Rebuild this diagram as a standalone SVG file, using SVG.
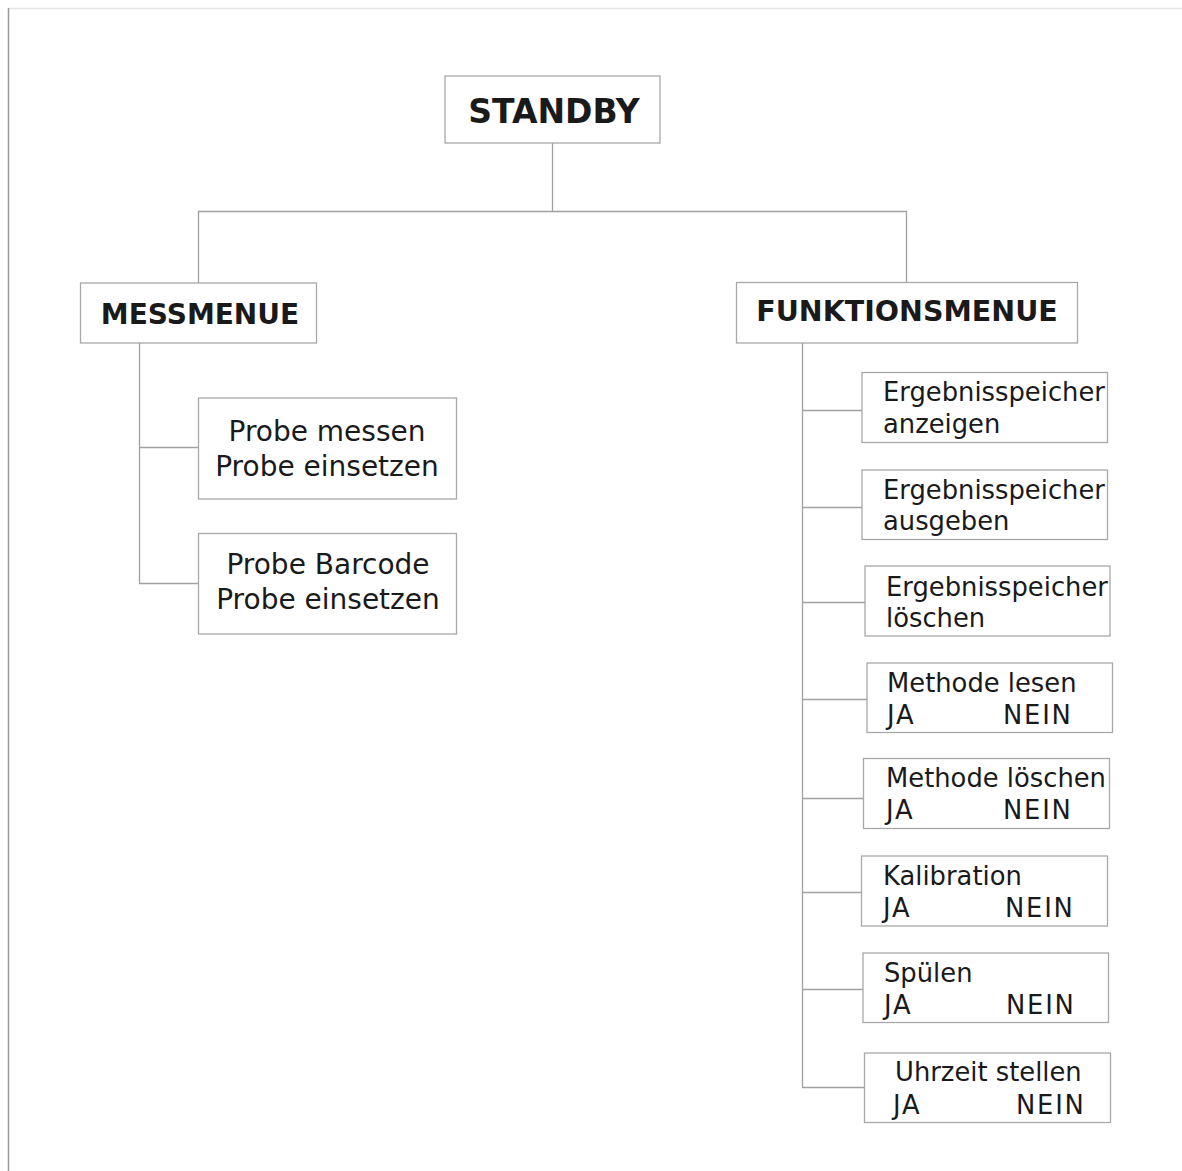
<svg xmlns="http://www.w3.org/2000/svg" width="1182" height="1171" viewBox="0 0 1182 1171">
<style>
.box{fill:#fff;stroke:#a8a8a8;stroke-width:1.3}
.line{fill:none;stroke:#a0a0a0;stroke-width:1.3}
.h{font-family:"DejaVu Sans",Verdana,sans-serif;font-weight:bold;fill:#1a1a1a;text-anchor:middle}
.t{font-family:"DejaVu Sans",Verdana,sans-serif;fill:#1a1a1a;font-size:25.8px}
.n{letter-spacing:1.8px}
.p{font-family:"DejaVu Sans",Verdana,sans-serif;fill:#1a1a1a;font-size:28px;text-anchor:middle}
</style>
<rect x="0" y="0" width="1182" height="1171" fill="#fff"/>
<line x1="8" y1="8.5" x2="1182" y2="8.5" stroke="#e6e6e6" stroke-width="1.5"/>
<line x1="8.5" y1="8" x2="8.5" y2="1171" stroke="#999" stroke-width="1.5"/>
<g id="connectors">
<path class="line" d="M552.5 143V211.5M198.5 283V211.5H906.5V283"/>
<path class="line" d="M139.5 343V583.5H198.5M139.5 447.5H198.5"/>
<path class="line" d="M802.5 343V1087.5H864M802.5 410.5H862M802.5 507.5H862M802.5 602.5H865M802.5 699.5H867M802.5 798.5H863M802.5 892.5H861M802.5 989.5H863"/>
</g>
<g id="standby"><rect class="box" x="445" y="76" width="215" height="67"/><text class="h" x="554" y="123" font-size="33">STANDBY</text></g>
<g id="messmenue"><rect class="box" x="80.5" y="283" width="236" height="60"/><text class="h" x="200" y="324" font-size="28">MESSMENUE</text></g>
<g id="funktionsmenue"><rect class="box" x="736.5" y="282.5" width="341" height="60.5"/><text class="h" x="907" y="321" font-size="28.5">FUNKTIONSMENUE</text></g>
<g id="probe-messen"><rect class="box" x="198.5" y="398" width="258" height="101"/><text class="p" x="327" y="441">Probe messen</text><text class="p" x="327" y="476">Probe einsetzen</text></g>
<g id="probe-barcode"><rect class="box" x="198.5" y="533.5" width="258" height="100.5"/><text class="p" x="328" y="574">Probe Barcode</text><text class="p" x="328" y="609">Probe einsetzen</text></g>
<g id="erg-anzeigen"><rect class="box" x="862" y="372.5" width="245.5" height="70"/><text class="t" x="883" y="401">Ergebnisspeicher</text><text class="t" x="883" y="433">anzeigen</text></g>
<g id="erg-ausgeben"><rect class="box" x="862" y="470" width="245.5" height="69.5"/><text class="t" x="883" y="499">Ergebnisspeicher</text><text class="t" x="883" y="530">ausgeben</text></g>
<g id="erg-loeschen"><rect class="box" x="865" y="566" width="245" height="70"/><text class="t" x="886" y="596">Ergebnisspeicher</text><text class="t" x="886" y="627">löschen</text></g>
<g id="methode-lesen"><rect class="box" x="867" y="663" width="245.5" height="69.5"/><text class="t" x="887" y="692">Methode lesen</text><text class="t n" x="887" y="724">JA</text><text class="t n" x="1003" y="724">NEIN</text></g>
<g id="methode-loeschen"><rect class="box" x="863.5" y="758.5" width="246" height="70"/><text class="t" x="886" y="787">Methode löschen</text><text class="t n" x="886" y="819">JA</text><text class="t n" x="1003" y="819">NEIN</text></g>
<g id="kalibration"><rect class="box" x="861.5" y="856" width="246" height="70"/><text class="t" x="883" y="885">Kalibration</text><text class="t n" x="883" y="917">JA</text><text class="t n" x="1005" y="917">NEIN</text></g>
<g id="spuelen"><rect class="box" x="863" y="953" width="245.5" height="69.5"/><text class="t" x="884" y="982">Spülen</text><text class="t n" x="884" y="1014">JA</text><text class="t n" x="1006" y="1014">NEIN</text></g>
<g id="uhrzeit"><rect class="box" x="864.5" y="1053" width="246" height="69.5"/><text class="t" x="895" y="1081">Uhrzeit stellen</text><text class="t n" x="893" y="1114">JA</text><text class="t n" x="1016" y="1114">NEIN</text></g>
</svg>
